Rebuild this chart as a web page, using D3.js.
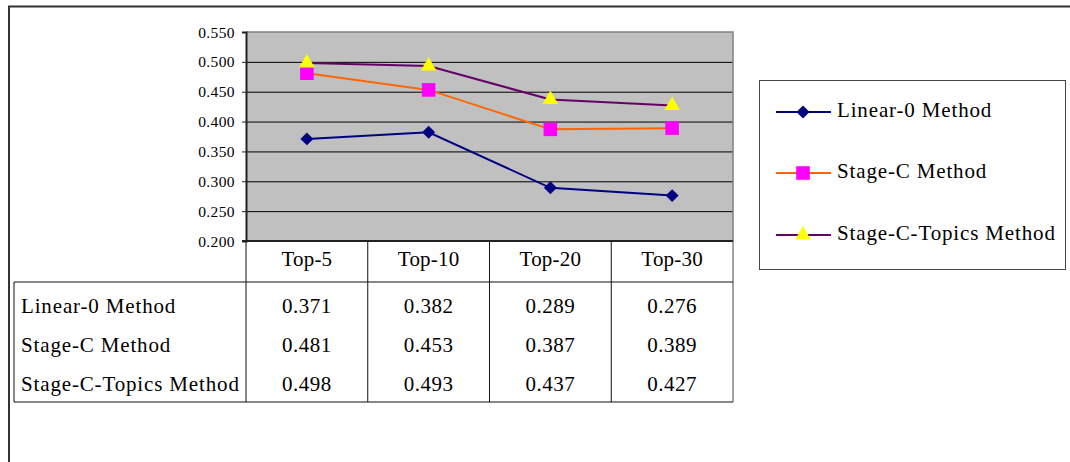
<!DOCTYPE html>
<html>
<head>
<meta charset="utf-8">
<script src="https://cdn.jsdelivr.net/npm/d3@7"></script>
<style>
  html, body { margin: 0; padding: 0; background: #fff; }
  svg { display: block; }
  text { font-family: "Liberation Serif", "Times New Roman", serif; fill: #000; }
</style>
</head>
<body>
<svg id="chart" width="1070" height="462"></svg>
<script>
// Precision at top-N for three retrieval methods
const categories = ["Top-5", "Top-10", "Top-20", "Top-30"];
const seriesNames = ["Linear-0 Method", "Stage-C Method", "Stage-C-Topics Method"];
const linear0 = [0.371, 0.382, 0.289, 0.276];
const stageC = [0.481, 0.453, 0.387, 0.389];
const stageCTopics = [0.498, 0.493, 0.437, 0.427];
const yTicks = [0.200, 0.250, 0.300, 0.350, 0.400, 0.450, 0.500, 0.550];

// Square turned 45° so the diamond is as wide as it is tall
const squareDiamond = {
  draw(context, size) {
    const r = Math.sqrt(size / 2);
    context.moveTo(0, -r);
    context.lineTo(r, 0);
    context.lineTo(0, r);
    context.lineTo(-r, 0);
    context.closePath();
  }
};

const series = [
  { name: seriesNames[0], values: linear0, line: "#000080", fill: "#000080", shape: squareDiamond, size: 84 },
  { name: seriesNames[1], values: stageC, line: "#ff6600", fill: "#ff00ff", shape: d3.symbolSquare, size: 185 },
  { name: seriesNames[2], values: stageCTopics, line: "#660066", fill: "#ffff00", shape: d3.symbolTriangle, size: 105 }
];

const svg = d3.select("#chart");

// Outer frame
svg.append("path")
  .attr("d", "M9,470 V6.5 H1080")
  .attr("fill", "none").attr("stroke", "#333").attr("stroke-width", 2);

const plot = { left: 246, right: 733, top: 32, bottom: 241 };
const table = { left: 14, headerBottom: 282, bottom: 402, rowStart: 312.5, rowStep: 39 };

const x = d3.scaleBand().domain(categories).range([plot.left, plot.right]).padding(0);
const y = d3.scaleLinear().domain([0.2, 0.55]).range([plot.bottom, plot.top]);

// Plot background
svg.append("rect")
  .attr("x", plot.left).attr("y", plot.top)
  .attr("width", plot.right - plot.left).attr("height", plot.bottom - plot.top)
  .attr("fill", "#c0c0c0");

// Horizontal gridlines
svg.append("g")
  .attr("transform", `translate(${plot.left},0)`)
  .call(d3.axisLeft(y).tickValues(yTicks.slice(1, -1)).tickSize(-(plot.right - plot.left)).tickFormat(""))
  .call(g => g.select(".domain").remove())
  .call(g => g.selectAll("line").attr("stroke", "#000").attr("stroke-width", 1));

// Top and right plot border
svg.append("path")
  .attr("d", `M${plot.left},${plot.top} H${plot.right} V${plot.bottom}`)
  .attr("fill", "none").attr("stroke", "#808080").attr("stroke-width", 1.5);

// Y axis with labels
const yAxis = svg.append("g")
  .attr("transform", `translate(${plot.left},0)`)
  .call(d3.axisLeft(y).tickValues(yTicks).tickSize(4).tickPadding(7).tickFormat(d3.format(".3f")));
yAxis.select(".domain").attr("stroke", "#222").attr("stroke-width", 2);
yAxis.selectAll("line").attr("stroke", "#222").attr("stroke-width", 1);
yAxis.selectAll("text")
  .style("font-family", "'Liberation Serif', 'Times New Roman', serif")
  .style("font-size", "15.5px").style("letter-spacing", "0.4px")
  .attr("fill", "#111").attr("dy", "0.33em");

// Bottom axis line
svg.append("line")
  .attr("x1", plot.left - 4).attr("x2", plot.right)
  .attr("y1", plot.bottom).attr("y2", plot.bottom)
  .attr("stroke", "#222").attr("stroke-width", 2);

// Series lines and markers
const lineGen = (vals) => d3.line()
  .x((d, i) => x(categories[i]) + x.bandwidth() / 2)
  .y(d => y(d))(vals);

series.forEach(s => {
  svg.append("path")
    .attr("d", lineGen(s.values))
    .attr("fill", "none").attr("stroke", s.line).attr("stroke-width", 2);
});
series.forEach(s => {
  svg.append("g").selectAll("path")
    .data(s.values)
    .join("path")
    .attr("transform", (d, i) => `translate(${x(categories[i]) + x.bandwidth() / 2},${y(d)})`)
    .attr("d", d3.symbol().type(s.shape).size(s.size))
    .attr("fill", s.fill);
});

// Data table
const tbl = svg.append("g").attr("stroke", "#111").attr("stroke-width", 1).attr("fill", "none");
const edges = categories.map(c => x(c)).concat([plot.right]);
edges.forEach((ex, i) => {
  tbl.append("line")
    .attr("x1", ex).attr("x2", ex)
    .attr("y1", plot.bottom).attr("y2", table.bottom)
    .attr("stroke", i === edges.length - 1 ? "#444" : "#111");
});
tbl.append("line").attr("x1", table.left).attr("x2", plot.right)
  .attr("y1", table.headerBottom).attr("y2", table.headerBottom);
tbl.append("line").attr("x1", table.left).attr("x2", plot.right)
  .attr("y1", table.bottom).attr("y2", table.bottom);
tbl.append("line").attr("x1", table.left).attr("x2", table.left)
  .attr("y1", table.headerBottom).attr("y2", table.bottom);

const headFont = g => g.style("font-size", "21px").style("letter-spacing", "0.2px");
const cellFont = g => g.style("font-size", "21px").style("letter-spacing", "0.5px");
const nameFont = g => g.style("font-size", "21px").style("letter-spacing", "0.85px");

// Header row
svg.append("g").call(headFont).selectAll("text")
  .data(categories)
  .join("text")
  .attr("x", d => x(d) + x.bandwidth() / 2)
  .attr("y", 266)
  .attr("text-anchor", "middle")
  .text(d => d);

// Body rows
series.forEach((s, r) => {
  const rowY = table.rowStart + r * table.rowStep;
  svg.append("text").call(nameFont).attr("x", 21).attr("y", rowY).text(s.name);
  svg.append("g").call(cellFont).selectAll("text")
    .data(s.values)
    .join("text")
    .attr("x", (d, i) => x(categories[i]) + x.bandwidth() / 2)
    .attr("y", rowY)
    .attr("text-anchor", "middle")
    .text(d => d3.format(".3f")(d));
});

// Legend
const legend = svg.append("g");
legend.append("rect")
  .attr("x", 759.5).attr("y", 80.5).attr("width", 306).attr("height", 189)
  .attr("fill", "#fff").attr("stroke", "#444").attr("stroke-width", 1);
const legendY = [112, 173, 235];
series.forEach((s, i) => {
  const ly = legendY[i];
  legend.append("line")
    .attr("x1", 776).attr("x2", 831).attr("y1", ly).attr("y2", ly)
    .attr("stroke", s.line).attr("stroke-width", 2);
  legend.append("path")
    .attr("transform", `translate(803,${ly})`)
    .attr("d", d3.symbol().type(s.shape).size(s.size))
    .attr("fill", s.fill);
  legend.append("text").call(nameFont)
    .attr("x", 837).attr("y", ly + 5)
    .text(s.name);
});
</script>
</body>
</html>
